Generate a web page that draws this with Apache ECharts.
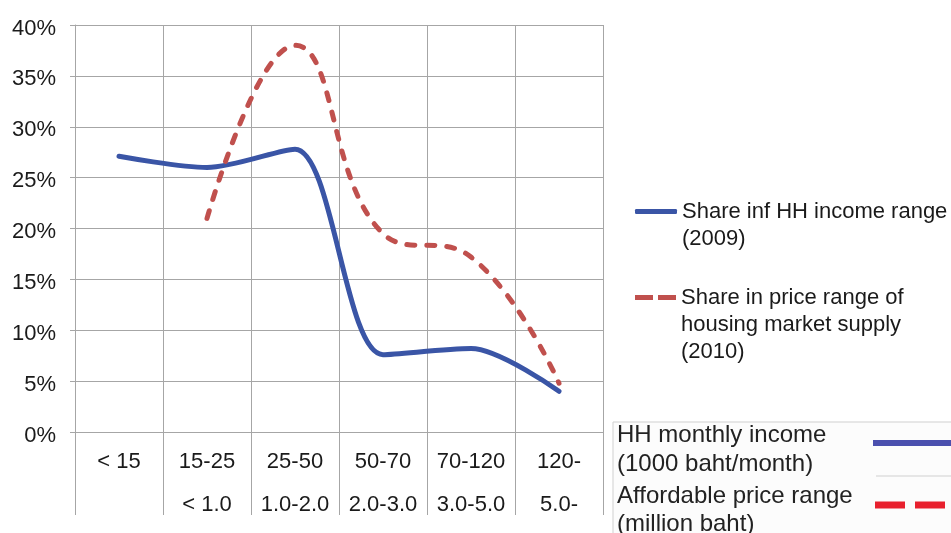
<!DOCTYPE html>
<html>
<head>
<meta charset="utf-8">
<script src="https://cdn.jsdelivr.net/npm/echarts@6/dist/echarts.min.js"></script>
<style>
  html, body { margin: 0; padding: 0; background: #fff; }
  #chart { width: 951px; height: 533px; }
</style>
</head>
<body>
<div id="chart"></div>
<script>
// income ranges (1000 baht/month) and matching price ranges (million baht)
const incomeLabels = ["< 15", "15-25", "25-50", "50-70", "70-120", "120-"];
const priceLabels = ["", "< 1.0", "1.0-2.0", "2.0-3.0", "3.0-5.0", "5.0-"];
// shares in %
const incomeShare = [27.1, 26, 27.8, 7.6, 8.2, 4];
const supplyShare = [null, 21, 38, 19.5, 17.2, 4.8];
const yTicks = [0, 5, 10, 15, 20, 25, 30, 35, 40];

const incomeName = "Share inf HH income range (2009)";
const supplyName = "Share in price range of housing market supply (2010)";

const font = "'Liberation Sans', Arial, sans-serif";
const gridColor = "#a6a6a6";
const blue = "#3a55a6";
const red = "#c0504d";

const chart = echarts.init(document.getElementById("chart"));
const option = {
  animation: false,
  backgroundColor: "#fff",
  grid: { left: 75, right: 348, top: 25, bottom: 101 },
  xAxis: {
    type: "category",
    data: incomeLabels,
    boundaryGap: true,
    axisLine: { lineStyle: { color: gridColor, width: 1 } },
    axisTick: { show: true, length: 83, lineStyle: { color: gridColor } },
    splitLine: { show: true, lineStyle: { color: gridColor, width: 1 } },
    axisLabel: {
      margin: 8,
      interval: 0,
      fontFamily: font,
      fontSize: 22,
      color: "#1a1a1a",
      lineHeight: 43,
      formatter: (v, i) => v + "\n" + priceLabels[i],
    },
  },
  yAxis: {
    type: "value",
    min: yTicks[0],
    max: yTicks[yTicks.length - 1],
    interval: 5,
    axisLine: { show: true, lineStyle: { color: gridColor } },
    axisTick: { show: true, length: 5, lineStyle: { color: gridColor } },
    splitLine: { lineStyle: { color: gridColor, width: 1 } },
    axisLabel: {
      margin: 19,
      formatter: (v) => "{p|" + v + "%}",
      rich: {
        p: {
          fontFamily: font,
          fontSize: 22,
          color: "#1a1a1a",
          padding: [7, 0, 0, 0],
        },
      },
    },
  },
  legend: [
    {
      data: [{ name: incomeName, icon: "roundRect" }],
      left: 635,
      top: 171,
      padding: 0,
      itemWidth: 42,
      itemHeight: 5,
      selectedMode: false,
      // blank first line keeps the icon level with the first text line
      formatter: () => " \nShare inf HH income range\n(2009)",
      textStyle: { fontFamily: font, fontSize: 22, color: "#1a1a1a", lineHeight: 27 },
    },
    {
      data: [{ name: supplyName, icon: "path://M0,0H18V5H0Z M23,0H41V5H23Z" }],
      left: 635,
      top: 230,
      padding: 0,
      itemWidth: 41,
      itemHeight: 5,
      selectedMode: false,
      formatter: () => " \n \nShare in price range of\nhousing market supply\n(2010)",
      textStyle: { fontFamily: font, fontSize: 22, color: "#1a1a1a", lineHeight: 27 },
    },
  ],
  series: [
    {
      name: incomeName,
      type: "line",
      data: incomeShare,
      smooth: 0.3,
      symbol: "none",
      lineStyle: { color: blue, width: 5, cap: "round", join: "round" },
      itemStyle: { color: blue },
      z: 3,
    },
    {
      name: supplyName,
      type: "line",
      data: supplyShare,
      smooth: 0.45,
      symbol: "none",
      lineStyle: { color: red, width: 5, type: [8, 12], cap: "round" },
      itemStyle: { color: red },
      z: 4,
    },
  ],
  graphic: [
    {
      type: "rect",
      shape: { x: 613, y: 422, width: 400, height: 200 },
      style: { fill: "#fcfcfc", stroke: "#cfcfcf", lineWidth: 1 },
      silent: true,
    },
    {
      type: "text",
      left: 617,
      top: 421,
      style: {
        text: "HH monthly income\n(1000 baht/month)",
        font: "24px " + font,
        fill: "#222",
        lineHeight: 29,
      },
    },
    {
      type: "text",
      left: 617,
      top: 482,
      style: {
        text: "Affordable price range\n(million baht)",
        font: "24px " + font,
        fill: "#222",
        lineHeight: 28,
      },
    },
    {
      type: "line",
      shape: { x1: 873, y1: 443, x2: 951, y2: 443 },
      style: { stroke: "#4b50ae", lineWidth: 6 },
      silent: true,
    },
    {
      type: "line",
      shape: { x1: 876, y1: 476, x2: 951, y2: 476 },
      style: { stroke: "#d0d0d0", lineWidth: 1 },
      silent: true,
    },
    {
      type: "line",
      shape: { x1: 875, y1: 505, x2: 951, y2: 505 },
      style: { stroke: "#e8202e", lineWidth: 7, lineDash: [30, 10] },
      silent: true,
    },
  ],
};
chart.setOption(option);
</script>
</body>
</html>
